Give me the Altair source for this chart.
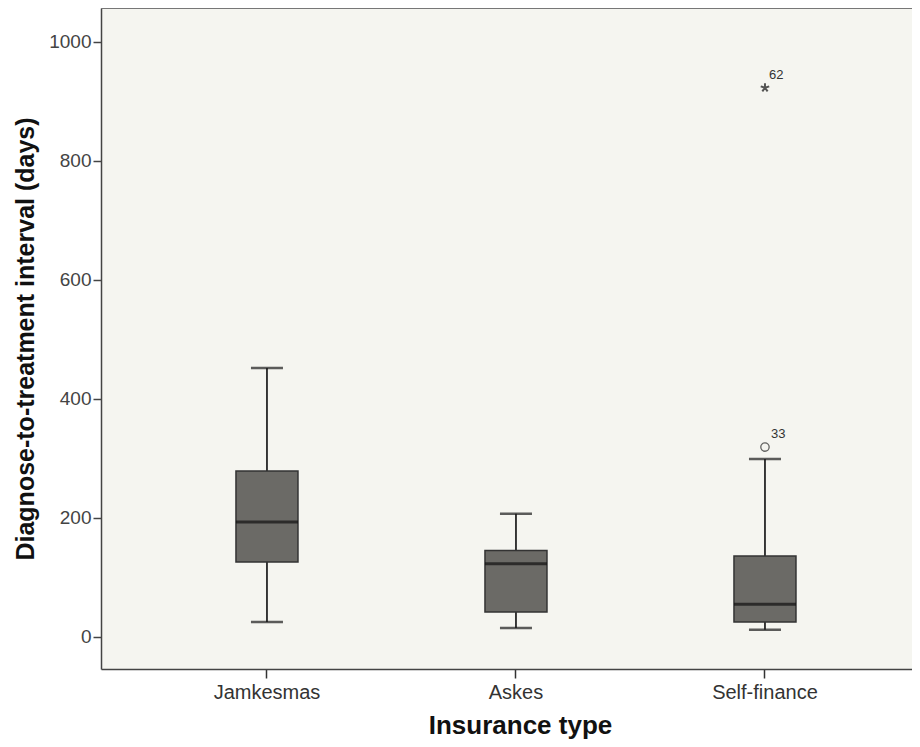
import altair as alt
import pandas as pd

categories = ["Jamkesmas", "Askes", "Self-finance"]
whisker_low = [25, 15, 12]
q1 = [126, 42, 25]
median = [193, 123, 55]
q3 = [279, 145, 136]
whisker_high = [452, 207, 299]

outlier_cat = ["Self-finance"]
outlier_val = [319]
outlier_lab = ["33"]
extreme_cat = ["Self-finance"]
extreme_val = [923]
extreme_lab = ["62"]

y_ticks = [0, 200, 400, 600, 800, 1000]

W, H = 811, 661
FONT = "Liberation Sans"

box = pd.DataFrame({"cat": categories, "lo": whisker_low, "q1": q1,
                    "med": median, "q3": q3, "hi": whisker_high})
outl = pd.DataFrame({"cat": outlier_cat, "v": outlier_val, "lab": outlier_lab})
extr = pd.DataFrame({"cat": extreme_cat, "v": extreme_val, "lab": extreme_lab})

xscale = alt.Scale(domain=categories, paddingInner=0, paddingOuter=0.1285, align=0.648)
yscale = alt.Scale(domain=[-54, 1057], nice=False, zero=False)

x_enc = alt.X("cat:N", scale=xscale, sort=categories,
              axis=alt.Axis(title="Insurance type", labelAngle=0, labelFontSize=20,
                            labelColor="#333", labelFont=FONT, labelPadding=4,
                            tickSize=9, tickColor="#333", tickWidth=1.5,
                            domainColor="#444", domainWidth=1.5,
                            titleFontSize=26, titleFontWeight="bold", titleFont=FONT,
                            titleColor="#111", titlePadding=10, titleX=419))
y_axis = alt.Axis(title="Diagnose-to-treatment interval (days)", values=y_ticks,
                  format="d", grid=False, labelFontSize=19, labelColor="#444",
                  labelFont=FONT, labelPadding=2, tickSize=8, tickColor="#444",
                  tickWidth=1.5, domainColor="#444", domainWidth=1.5,
                  titleFontSize=25, titleFontWeight="bold", titleFont=FONT,
                  titleColor="#111", titlePadding=10)

base = alt.Chart(box)

whisk = base.mark_rule(color="#1a1a1a", strokeWidth=1.7).encode(
    x=x_enc, y=alt.Y("lo:Q", scale=yscale, axis=y_axis), y2="hi:Q")
bars = base.mark_bar(size=62, color="#6b6a66", stroke="#333", strokeWidth=1.5).encode(
    x=x_enc, y=alt.Y("q1:Q", scale=yscale, axis=y_axis), y2="q3:Q")
med = base.mark_tick(size=62, thickness=3, color="#111").encode(
    x=x_enc, y=alt.Y("med:Q", scale=yscale, axis=y_axis))
cap_lo = base.mark_tick(size=32, thickness=2.5, color="#1a1a1a").encode(
    x=x_enc, y=alt.Y("lo:Q", scale=yscale, axis=y_axis))
cap_hi = base.mark_tick(size=32, thickness=2.5, color="#1a1a1a").encode(
    x=x_enc, y=alt.Y("hi:Q", scale=yscale, axis=y_axis))

o_pt = alt.Chart(outl).mark_point(shape="circle", size=70, filled=False,
                                  color="#222", strokeWidth=1.3).encode(
    x=x_enc, y=alt.Y("v:Q", scale=yscale, axis=y_axis))
o_tx = alt.Chart(outl).mark_text(align="left", baseline="middle", dx=6, dy=-13,
                                 fontSize=13, font=FONT, color="#333").encode(
    x=x_enc, y=alt.Y("v:Q", scale=yscale, axis=y_axis), text="lab:N")

star_path = ("M0,0L0,-1M0,0L0.95,-0.31M0,0L0.59,0.81M0,0L-0.59,0.81M0,0L-0.95,-0.31")
e_pt = alt.Chart(extr).mark_point(shape=star_path, size=80, filled=False,
                                  color="#111", strokeWidth=2).encode(
    x=x_enc, y=alt.Y("v:Q", scale=yscale, axis=y_axis))
e_tx = alt.Chart(extr).mark_text(align="left", baseline="middle", dx=4, dy=-13,
                                 fontSize=13, font=FONT, color="#333").encode(
    x=x_enc, y=alt.Y("v:Q", scale=yscale, axis=y_axis), text="lab:N")

top_border = alt.Chart(box).mark_rule(color="#777", strokeWidth=2).encode(
    x=alt.value(0), x2=alt.value(W), y=alt.value(0))

chart = alt.layer(whisk, bars, med, cap_lo, cap_hi, o_pt, o_tx, e_pt, e_tx, top_border).properties(
    width=W, height=H,
    autosize=alt.AutoSizeParams(type="none"),
    padding={"left": 93, "top": 0, "right": 0, "bottom": 70},
    background="white",
).configure_view(fill="#f5f5f0", stroke=None)

chart.save("out.html", embed_options={"renderer": "svg", "actions": False})
